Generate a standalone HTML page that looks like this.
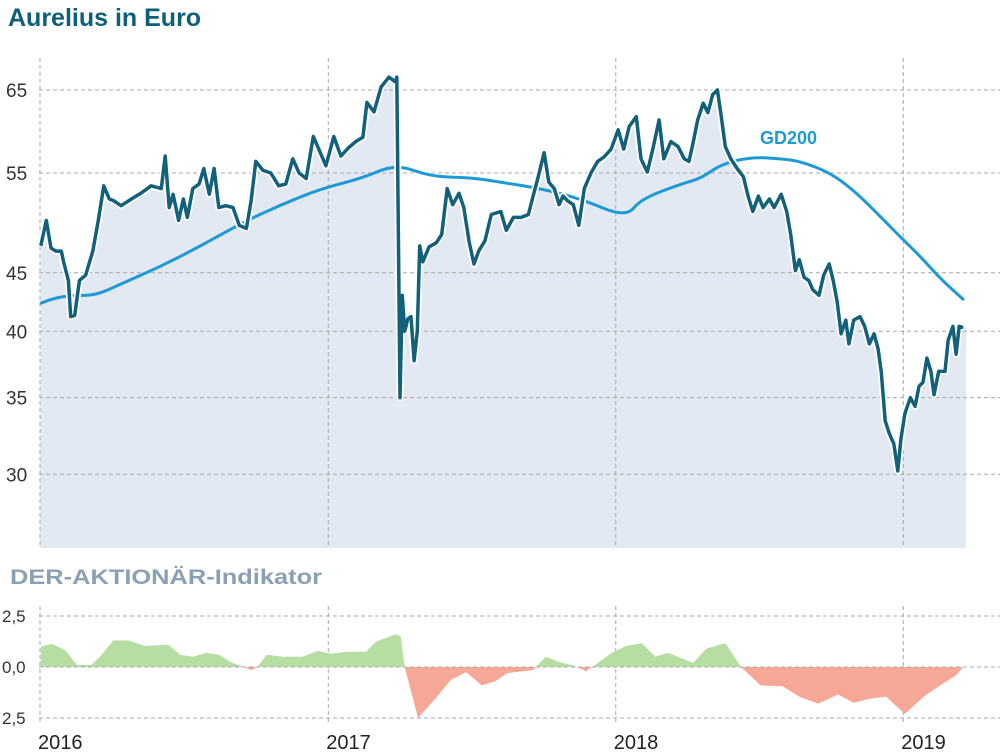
<!DOCTYPE html>
<html><head><meta charset="utf-8">
<style>
body{margin:0;background:#fff;width:1000px;height:755px;overflow:hidden;font-family:"Liberation Sans",sans-serif}
svg{position:absolute;left:0;top:0}
</style></head>
<body>
<svg id="c" width="1000" height="755">
<text x="8" y="26" font-size="25" font-weight="bold" fill="#0d5f7c">Aurelius in Euro</text>
<text x="10" y="584" font-size="21" font-weight="bold" fill="#8aa0b4" textLength="312" lengthAdjust="spacingAndGlyphs">DER-AKTIONÄR-Indikator</text>
<g id="main"></g>
<g id="ind"></g>
</svg>
<script>
const priceDays=[1,8,11,14,20,27,30,36,39,44,50,58,67,74,81,88,94,103,116,128,141,154,159,164,169,176,182,187,194,202,208,215,221,227,236,245,253,262,268,274,283,293,303,312,321,329,338,347,354,363,373,382,392,401,410,415,424,433,443,451,453,457,460,463,467,471,475,479,482,486,494,503,510,517,524,532,538,545,551,557,565,573,585,592,601,611,620,626,632,640,646,653,659,664,670,677,684,691,700,708,716,725,734,741,748,757,763,771,778,786,792,801,810,818,824,829,835,842,848,854,860,865,870,877,885,893,899,905,912,918,926,932,941,948,953,959,964,970,976,981,989,995,1002,1007,1012,1017,1023,1027,1033,1041,1047,1053,1059,1064,1068,1073,1078,1084,1089,1093,1098,1105,1111,1116,1121,1126,1131,1135,1141,1149,1153,1159,1163,1167,1172];
const priceValues=[47.5,50,48.6,47.3,47,47,46,44.3,41.2,41.3,44.3,44.8,47,50,53.6,52.2,52,51.5,52.2,52.8,53.6,53.3,56.9,51.3,52.7,50,52.2,50.3,53.3,53.8,55.5,52.7,55.5,51.3,51.5,51.3,49.5,49.2,52,56.3,55.3,55,53.6,53.8,56.6,55,54.4,59.2,57.7,55.8,59.2,56.9,57.9,58.6,59.1,63.4,62.2,65.4,66.7,66.1,66.7,35,43,40,41,41.2,37.7,40,47.5,46,47.4,47.8,48.6,53.3,51.6,52.8,51.3,47.8,45.8,47,48,50.6,50.9,49,50.3,50.3,50.6,52.5,54.4,57.3,54,53.3,51.6,52.5,52,51.6,49.5,53.3,55.1,56.3,56.8,57.7,60,57.7,60.4,61.6,56.6,55.1,57.7,61.2,56.6,58.6,58,56.6,56.3,58.4,61.2,63.3,62.1,64.4,65,61.6,58,56.6,55.5,54.6,52.5,50.9,52.5,51.3,52.2,51.3,52.7,50.9,48.6,45.2,46.2,44.6,44.3,43.5,43,44.8,45.8,44.3,42.5,39.8,40.9,39,40.9,41.2,40.4,39,39.8,38.6,36.9,33.4,32.6,31.9,30.2,32.2,33.9,35,34.4,35.8,36.1,37.9,36.9,35.2,36.9,36.9,39.3,40.4,38.2,40.4,40.3];
const gdDays=[0,20,42,71,103,154,204,255,306,357,408,452,496,547,585,636,687,744,763,814,839,865,903,941,966,1004,1036,1068,1093,1119,1144,1173];
const gdValues=[42.3,42.8,43,43,44,45.6,47.5,49.7,51.6,53.3,54.4,56,54.6,54.5,54,53.3,52.2,50.3,52.2,53.8,54.4,56,56.8,56.6,56.3,55,52.9,50.3,48.3,46.4,44.4,42.6];
const indDays=[1,15,32,47,65,76,93,113,133,163,178,194,211,227,244,260,268,276,288,309,333,353,369,390,414,427,451,458,463,480,504,521,541,561,578,593,626,642,659,679,693,703,724,744,764,781,797,813,829,846,870,890,915,943,964,988,1013,1033,1054,1074,1098,1122,1139,1163,1172];
const indValues=[1.0,1.13,0.83,0.1,0.1,0.5,1.3,1.3,1.03,1.1,0.6,0.5,0.7,0.6,0.2,0.0,-0.15,0,0.6,0.5,0.5,0.8,0.65,0.75,0.75,1.25,1.6,1.5,0,-2.5,-1.45,-0.65,-0.25,-0.9,-0.7,-0.3,-0.15,0.5,0.25,0.05,-0.2,0.05,0.65,1.03,1.17,0.5,0.7,0.45,0.2,0.9,1.17,0,-0.9,-0.95,-1.45,-1.8,-1.35,-1.75,-1.55,-1.45,-2.3,-1.45,-1.0,-0.4,0];
const yTicks=[65,55,45,40,35,30];
const indTicks=[2.5,0,-2.5];
const indTickLabels=["2,5","0,0","2,5"];
const yearLabels=["2016","2017","2018","2019"];
const yearDays=[0,366,731,1096];

const NS="http://www.w3.org/2000/svg";
const X=d=>40+d*287.5/365;
const Y=v=>90-Math.log(v/65)*497;
const YI=v=>667-v*20.4;
function mk(tag,attrs,parent){const e=document.createElementNS(NS,tag);for(const k in attrs)e.setAttribute(k,attrs[k]);parent.appendChild(e);return e;}
const main=document.getElementById('main'),ind=document.getElementById('ind');

let pd=priceDays.map((d,i)=>`${X(d).toFixed(1)},${Y(priceValues[i]).toFixed(1)}`);
let area=mk('path',{d:`M${X(0)},548 L${X(priceDays[0])},${Y(priceValues[0])} L`+pd.join(' L')+` L${X(priceDays[priceDays.length-1])+3},${Y(priceValues[priceValues.length-1])} L${X(priceDays[priceDays.length-1])+3},548 Z`,fill:'#e3e9f2'},main);



yTicks.forEach(v=>{
  const l=mk('line',{x1:39,x2:1000,y1:Y(v),y2:Y(v),stroke:'#a8a8a8','stroke-dasharray':'4,3','stroke-width':1},main);
  
  
  const t=mk('text',{x:6,y:Y(v)+7,'font-size':19,fill:'#333'},main);t.textContent=v;
  
  
});
yearDays.forEach((d,i)=>{
  const l=mk('line',{x1:X(d),x2:X(d),y1:58,y2:548,stroke:'#a8a8a8','stroke-dasharray':'4,3','stroke-width':1},main);
  
  
  const l2=mk('line',{x1:X(d),x2:X(d),y1:606,y2:725,stroke:'#a8a8a8','stroke-dasharray':'4,3','stroke-width':1},ind);
  
  
  const t=mk('text',{x:X(d)-2,y:749,'font-size':20,fill:'#222'},ind);t.textContent=yearLabels[i];
  
  
});

const gdPts=gdDays.map((d,i)=>[X(d),Y(gdValues[i])]);
let gpath='M'+gdPts[0].join(',');
for(let i=1;i<gdPts.length;i++){const p0=gdPts[i-1],p1=gdPts[i];const mx=(p0[0]+p1[0])/2;gpath+=` Q${p0[0]},${p0[1]} ${mx},${(p0[1]+p1[1])/2}`;}
gpath+=' L'+gdPts[gdPts.length-1].join(',');
const gd=mk('path',{d:gpath,fill:'none',stroke:'#1d9ad6','stroke-width':3},main);


const gl=mk('text',{x:760,y:144,'font-size':18,fill:'#1d9ad6','font-weight':'bold'},main);gl.textContent='GD200';



const halo=mk('polyline',{points:pd.join(' '),fill:'none',stroke:'#fff','stroke-width':7,'stroke-linejoin':'round'},main);


const pl=mk('polyline',{points:pd.join(' '),fill:'none',stroke:'#12607a','stroke-width':3.5,'stroke-linejoin':'round'},main);



const defs=mk('defs',{},ind);
const cp1=mk('clipPath',{id:'above'},defs);mk('rect',{x:0,y:0,width:1000,height:667},cp1);
const cp2=mk('clipPath',{id:'below'},defs);mk('rect',{x:0,y:667,width:1000,height:100},cp2);
const ip=indDays.map((d,i)=>`${X(d).toFixed(1)},${YI(indValues[i]).toFixed(1)}`);
const idPath=`M${X(indDays[0])},667 L`+ip.join(' L')+` L${X(indDays[indDays.length-1])},667 Z`;
const g1=mk('path',{d:idPath,fill:'#b7dea2','clip-path':'url(#above)'},ind);


const g2=mk('path',{d:idPath,fill:'#f7a796','clip-path':'url(#below)'},ind);


indTicks.forEach((v,i)=>{
  const l=mk('line',{x1:39,x2:1000,y1:YI(v),y2:YI(v),stroke:'#a8a8a8','stroke-dasharray':'4,3','stroke-width':1},ind);
  
  
  const t=mk('text',{x:2,y:YI(v)+6,'font-size':17,fill:'#333'},ind);t.textContent=indTickLabels[i];
  
  
});
</script>
</body></html>
